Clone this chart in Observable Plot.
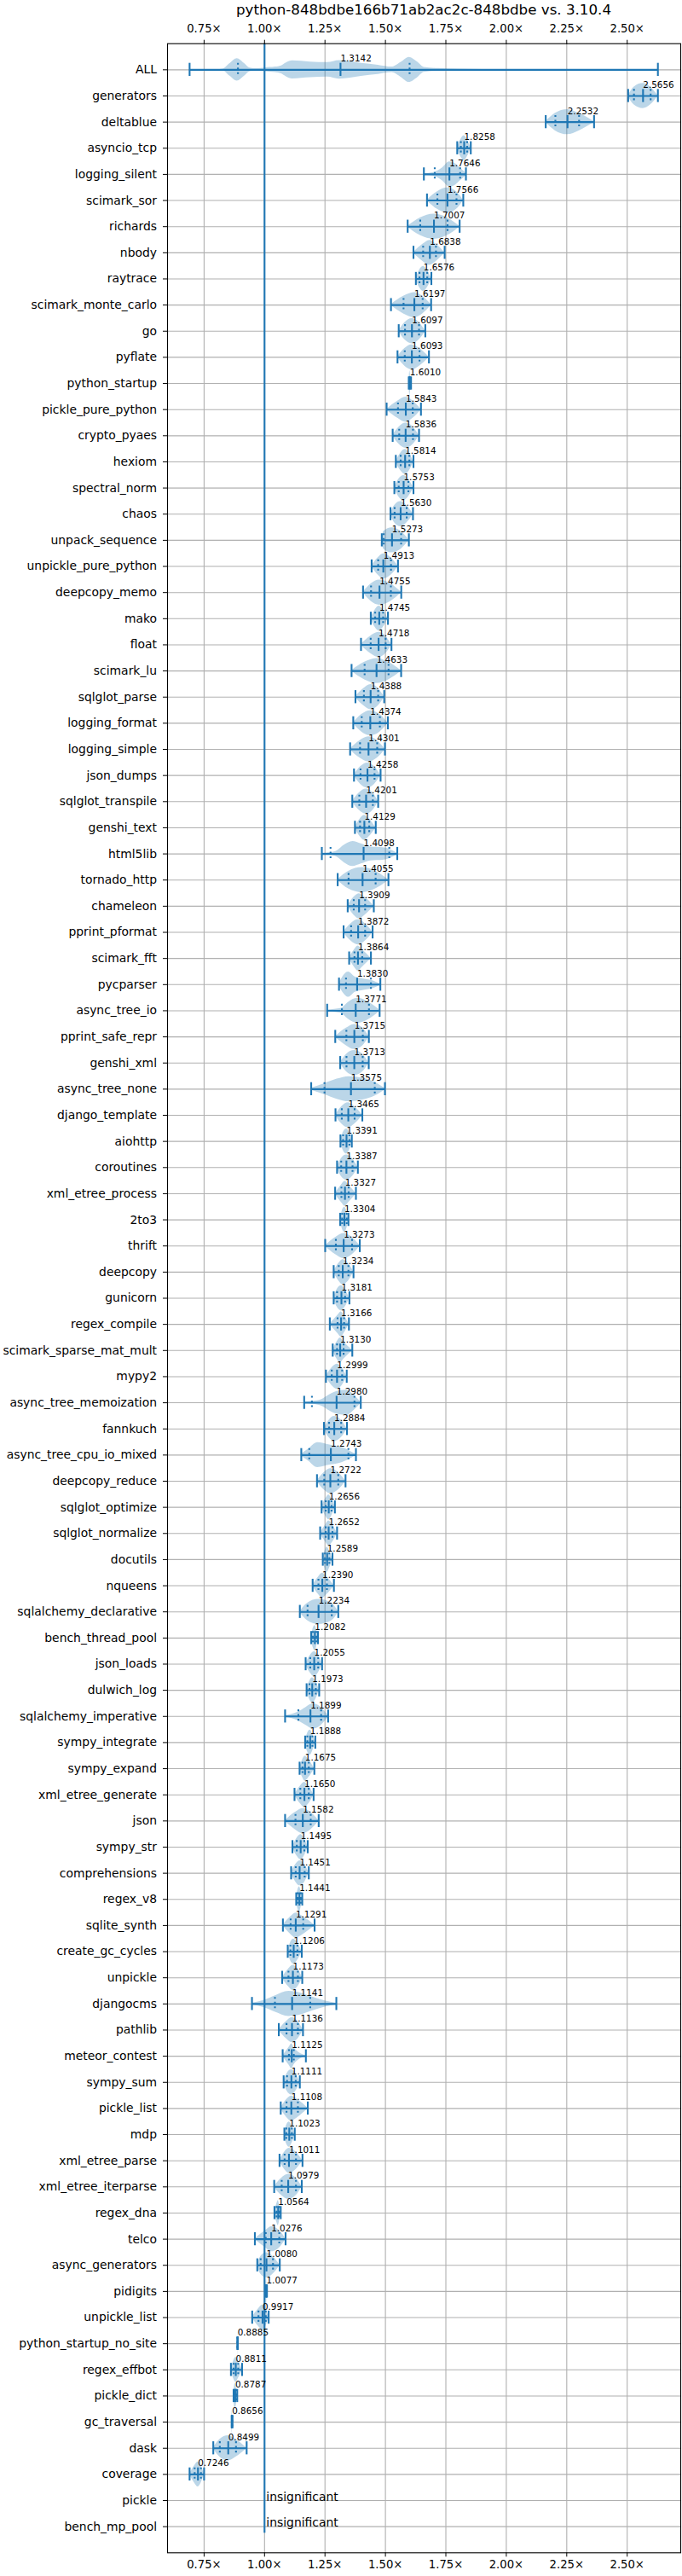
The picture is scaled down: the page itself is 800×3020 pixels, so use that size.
<!DOCTYPE html>
<html>
<head>
<meta charset="utf-8">
<script src="https://cdn.jsdelivr.net/npm/d3@7"></script>
<script src="https://cdn.jsdelivr.net/npm/@observablehq/plot@0.6"></script>
<style>
  html, body { margin: 0; padding: 0; background: #fff; }
  #title { height: 26px; line-height: 22px; width: 602px; margin-left: 196px; text-align: center;
           font-family: "DejaVu Sans", sans-serif; font-size: 16.7px; color: #000; white-space: nowrap; }
</style>
</head>
<body>
<div id="title"></div>
<div id="chart"></div>
<script>
const title = "python-848bdbe166b71ab2ac2c-848bdbe vs. 3.10.4";

const names = ["ALL","generators","deltablue","asyncio_tcp","logging_silent","scimark_sor","richards","nbody","raytrace","scimark_monte_carlo",
"go","pyflate","python_startup","pickle_pure_python","crypto_pyaes","hexiom","spectral_norm","chaos","unpack_sequence","unpickle_pure_python",
"deepcopy_memo","mako","float","scimark_lu","sqlglot_parse","logging_format","logging_simple","json_dumps","sqlglot_transpile","genshi_text",
"html5lib","tornado_http","chameleon","pprint_pformat","scimark_fft","pycparser","async_tree_io","pprint_safe_repr","genshi_xml","async_tree_none",
"django_template","aiohttp","coroutines","xml_etree_process","2to3","thrift","deepcopy","gunicorn","regex_compile","scimark_sparse_mat_mult",
"mypy2","async_tree_memoization","fannkuch","async_tree_cpu_io_mixed","deepcopy_reduce","sqlglot_optimize","sqlglot_normalize","docutils","nqueens","sqlalchemy_declarative",
"bench_thread_pool","json_loads","dulwich_log","sqlalchemy_imperative","sympy_integrate","sympy_expand","xml_etree_generate","json","sympy_str","comprehensions",
"regex_v8","sqlite_synth","create_gc_cycles","unpickle","djangocms","pathlib","meteor_contest","sympy_sum","pickle_list","mdp",
"xml_etree_parse","xml_etree_iterparse","regex_dna","telco","async_generators","pidigits","unpickle_list","python_startup_no_site","regex_effbot","pickle_dict",
"gc_traversal","dask","coverage","pickle","bench_mp_pool"];

const medians = [1.3142,2.5656,2.2532,1.8258,1.7646,1.7566,1.7007,1.6838,1.6576,1.6197,
1.6097,1.6093,1.6010,1.5843,1.5836,1.5814,1.5753,1.5630,1.5273,1.4913,
1.4755,1.4745,1.4718,1.4633,1.4388,1.4374,1.4301,1.4258,1.4201,1.4129,
1.4098,1.4055,1.3909,1.3872,1.3864,1.3830,1.3771,1.3715,1.3713,1.3575,
1.3465,1.3391,1.3387,1.3327,1.3304,1.3273,1.3234,1.3181,1.3166,1.3130,
1.2999,1.2980,1.2884,1.2743,1.2722,1.2656,1.2652,1.2589,1.2390,1.2234,
1.2082,1.2055,1.1973,1.1899,1.1888,1.1675,1.1650,1.1582,1.1495,1.1451,
1.1441,1.1291,1.1206,1.1173,1.1141,1.1136,1.1125,1.1111,1.1108,1.1023,
1.1011,1.0979,1.0564,1.0276,1.0080,1.0077,0.9917,0.8885,0.8811,0.8787,
0.8656,0.8499,0.7246,null,null];

const lows = [0.690,2.504,2.163,1.797,1.659,1.672,1.592,1.616,1.626,1.523,
1.555,1.550,1.5965,1.505,1.530,1.543,1.537,1.521,1.485,1.443,
1.4075,1.4395,1.399,1.360,1.376,1.367,1.354,1.370,1.363,1.374,
1.237,1.3025,1.344,1.327,1.350,1.308,1.259,1.2925,1.313,1.193,
1.2935,1.314,1.300,1.292,1.313,1.251,1.286,1.286,1.270,1.282,
1.254,1.164,1.246,1.152,1.217,1.236,1.230,1.241,1.199,1.146,
1.193,1.170,1.174,1.085,1.168,1.145,1.124,1.085,1.1155,1.110,
1.131,1.076,1.096,1.073,0.948,1.059,1.075,1.079,1.067,1.082,
1.062,1.040,1.041,0.960,0.970,1.005,0.949,0.8878,0.861,0.872,
0.864,0.788,0.690,null,null];

const q1s = [0.890,2.528,2.203,1.812,1.704,1.715,1.644,1.656,1.641,1.575,
1.581,1.580,1.599,1.552,1.557,1.563,1.555,1.538,1.493,1.470,
1.4405,1.4575,1.439,1.414,1.411,1.402,1.395,1.397,1.392,1.395,
1.273,1.3475,1.369,1.358,1.372,1.337,1.320,1.3385,1.339,1.248,
1.3195,1.325,1.317,1.318,1.321,1.295,1.307,1.300,1.302,1.300,
1.278,1.196,1.267,1.185,1.247,1.253,1.253,1.250,1.223,1.178,
1.200,1.189,1.186,1.140,1.177,1.157,1.148,1.128,1.1335,1.129,
1.137,1.108,1.107,1.099,1.043,1.091,1.101,1.093,1.091,1.090,
1.083,1.071,1.050,1.005,0.984,1.006,0.975,0.8882,0.872,0.875,
0.865,0.815,0.711,null,null];

const q3s = [1.600,2.597,2.301,1.838,1.809,1.794,1.757,1.709,1.673,1.654,
1.639,1.641,1.603,1.613,1.614,1.599,1.595,1.588,1.565,1.523,
1.5225,1.4905,1.501,1.513,1.470,1.477,1.466,1.455,1.448,1.433,
1.516,1.4595,1.416,1.416,1.404,1.440,1.432,1.4065,1.406,1.456,
1.3725,1.351,1.364,1.348,1.340,1.362,1.347,1.333,1.329,1.327,
1.321,1.372,1.317,1.347,1.305,1.277,1.281,1.268,1.258,1.278,
1.215,1.222,1.212,1.234,1.198,1.183,1.183,1.191,1.1645,1.166,
1.150,1.160,1.136,1.138,1.189,1.138,1.121,1.129,1.138,1.113,
1.130,1.130,1.061,1.061,1.035,1.009,1.005,0.8889,0.891,0.883,
0.8665,0.882,0.737,null,null];

const highs = [2.627,2.627,2.363,1.853,1.833,1.822,1.807,1.745,1.690,1.689,
1.665,1.680,1.606,1.647,1.639,1.616,1.616,1.614,1.597,1.552,
1.5655,1.5105,1.525,1.565,1.495,1.510,1.498,1.480,1.470,1.460,
1.549,1.5125,1.452,1.447,1.440,1.479,1.476,1.4315,1.431,1.498,
1.4045,1.361,1.386,1.378,1.347,1.394,1.368,1.351,1.349,1.363,
1.340,1.398,1.341,1.378,1.335,1.291,1.300,1.281,1.287,1.305,
1.221,1.238,1.226,1.263,1.210,1.206,1.203,1.224,1.1785,1.183,
1.156,1.207,1.154,1.156,1.297,1.159,1.171,1.146,1.179,1.125,
1.157,1.154,1.067,1.087,1.063,1.010,1.017,0.8893,0.907,0.887,
0.8675,0.926,0.750,null,null];

// violin outlines read off the picture where the shape is not a plain single hump: [value, relative half-width]
const shapeNames = ["ALL","logging_silent","html5lib","pycparser","async_tree_io","async_tree_none",
  "async_tree_memoization","async_tree_cpu_io_mixed","sqlalchemy_imperative","djangocms"];
const shapes = [
  [[0.690,0],[0.80,0.01],[0.828,0.06],[0.857,0.5],[0.887,0.89],[0.916,0.52],[0.94,0.15],[0.97,0.09],[1.0,0.15],[1.045,0.22],
   [1.07,0.32],[1.09,0.55],[1.116,0.72],[1.19,0.62],[1.26,0.58],[1.31,0.74],[1.40,0.52],[1.47,0.37],[1.527,0.22],[1.565,0.6],
   [1.598,1.0],[1.633,0.62],[1.66,0.2],[1.72,0.1],[1.80,0.06],[1.90,0.03],[2.0,0.01],[2.627,0]],
  [[1.659,0.06],[1.70,0.15],[1.735,0.5],[1.765,1.0],[1.79,0.85],[1.81,0.5],[1.833,0.1]],
  [[1.237,0.05],[1.27,0.1],[1.30,0.25],[1.33,0.7],[1.365,1.0],[1.40,0.8],[1.44,0.55],[1.49,0.5],[1.52,0.35],[1.549,0.06]],
  [[1.308,0.1],[1.32,0.5],[1.347,1.0],[1.375,0.6],[1.41,0.45],[1.44,0.35],[1.479,0.06]],
  [[1.259,0.06],[1.29,0.12],[1.318,0.2],[1.345,0.65],[1.385,1.0],[1.43,0.7],[1.476,0.06]],
  [[1.193,0.08],[1.25,0.45],[1.30,0.8],[1.35,1.0],[1.41,0.85],[1.456,0.55],[1.498,0.06]],
  [[1.164,0.06],[1.20,0.12],[1.235,0.25],[1.27,0.65],[1.31,0.95],[1.34,1.0],[1.37,0.6],[1.398,0.06]],
  [[1.152,0.08],[1.18,0.45],[1.22,1.0],[1.27,0.8],[1.32,0.6],[1.345,0.4],[1.378,0.05]],
  [[1.085,0.06],[1.11,0.15],[1.14,0.35],[1.17,0.7],[1.20,1.0],[1.225,0.85],[1.245,0.5],[1.263,0.08]],
  [[0.948,0.06],[1.0,0.3],[1.045,0.65],[1.10,1.0],[1.13,0.95],[1.19,0.6],[1.25,0.25],[1.297,0.05]]
];

const xTicks = [0.75, 1.00, 1.25, 1.50, 1.75, 2.00, 2.25, 2.50];
const baseline = 1.0;
const insignificantText = "insignificant";

document.getElementById("title").textContent = title;

const C0 = "#1f77b4";
const HW = 0.48;   // violin max half-width (row units)
const CAP = 0.25;  // half-length of cap / median / quartile ticks

const rows = names.map((name, i) => ({name, i, lo: lows[i], q1: q1s[i], med: medians[i], q3: q3s[i], hi: highs[i]}));
const sig = rows.filter(d => d.med != null);
const insig = rows.filter(d => d.med == null);

const violinPts = sig.flatMap(d => {
  const k = shapeNames.indexOf(d.name);
  const prof = k >= 0 ? shapes[k] : [[d.lo, 0.03], [d.q1, 0.7], [d.med, 1], [d.q3, 0.7], [d.hi, 0.03]];
  return prof.map(([v, w]) => ({i: d.i, v, w}));
});
const caps = sig.flatMap(d => [{i: d.i, v: d.lo}, {i: d.i, v: d.hi}]);
const quarts = sig.flatMap(d => [{i: d.i, v: d.q1}, {i: d.i, v: d.q3}]);
const rowIdx = d3.range(names.length);
const fmtX = d => d.toFixed(2) + "\u00d7";

const chart = Plot.plot({
  width: 800,
  height: 2994,
  marginLeft: 196,
  marginRight: 2,
  marginTop: 24.7,
  marginBottom: 27.7,
  style: {fontFamily: "DejaVu Sans, sans-serif", fontSize: "13.9px", color: "#000", background: "#fff"},
  x: {domain: [0.5987, 2.7214]},
  y: {domain: [-1, names.length], reverse: true},
  marks: [
    Plot.gridX(xTicks, {stroke: "#b0b0b0", strokeOpacity: 1, strokeWidth: 1.1}),
    Plot.gridY(rowIdx, {stroke: "#b0b0b0", strokeOpacity: 1, strokeWidth: 1.1}),
    Plot.areaY(violinPts, {x: "v", y1: d => d.i - HW * d.w, y2: d => d.i + HW * d.w, z: "i",
      curve: "monotone-x", fill: C0, fillOpacity: 0.3}),
    Plot.ruleY(sig, {y: "i", x1: "lo", x2: "hi", stroke: C0, strokeWidth: 2.1}),
    Plot.ruleX(caps, {x: "v", y1: d => d.i - CAP, y2: d => d.i + CAP, stroke: C0, strokeWidth: 2.1}),
    Plot.ruleX(sig, {x: "med", y1: d => d.i - CAP, y2: d => d.i + CAP, stroke: C0, strokeWidth: 2.1}),
    Plot.ruleX(quarts, {x: "v", y1: d => d.i - CAP, y2: d => d.i + CAP, stroke: C0, strokeWidth: 2.1, strokeDasharray: "2.1,3.4"}),
    Plot.ruleX([baseline], {x: d => d, y1: () => -1, y2: () => names.length - 1 + CAP, stroke: C0, strokeWidth: 2.1}),
    Plot.text(sig, {x: "med", y: d => d.i - 0.31, text: d => d.med.toFixed(4), textAnchor: "start",
      lineAnchor: "bottom", fontSize: 10.4, fill: "#000"}),
    Plot.text(insig, {x: () => baseline, y: "i", text: () => insignificantText, textAnchor: "start",
      lineAnchor: "bottom", fontSize: 13.9, dx: 2, fill: "#000"}),
    Plot.axisX(xTicks, {anchor: "top", tickFormat: fmtX, tickSize: 5, tickPadding: 8, fontSize: 13.2, label: null}),
    Plot.axisX(xTicks, {anchor: "bottom", tickFormat: fmtX, tickSize: 5, tickPadding: 3.5, fontSize: 13.2, label: null}),
    Plot.axisY(rowIdx, {anchor: "left", tickFormat: i => names[i], tickSize: 5, tickPadding: 7.5, fontSize: 13.9, label: null}),
    Plot.frame({stroke: "#000", strokeWidth: 1.1})
  ]
});
document.getElementById("chart").appendChild(chart);
</script>
</body>
</html>
